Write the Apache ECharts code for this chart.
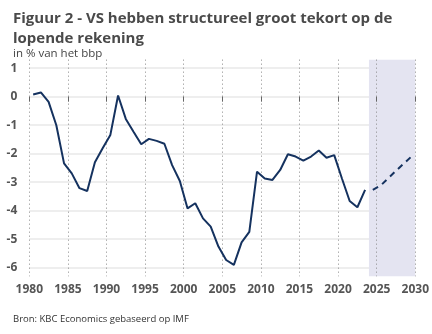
<!DOCTYPE html>
<html>
<head>
<meta charset="utf-8">
<script src="https://cdn.jsdelivr.net/npm/echarts@6/dist/echarts.min.js"></script>
<style>
  html, body { margin: 0; padding: 0; background: #fff; }
  #chart { width: 432px; height: 334px; }
</style>
</head>
<body>
<div id="chart"></div>
<script>
// US current account balance, % of GDP (IMF), 1980-2023 realised, 2024-2029 forecast
const firstYear = 1980;
const actual = [
  0.08, 0.15, -0.18, -1.0, -2.34, -2.69, -3.21, -3.31, -2.30, -1.81,
  -1.34, 0.04, -0.78, -1.23, -1.67, -1.48, -1.55, -1.65, -2.40, -2.96,
  -3.92, -3.74, -4.27, -4.56, -5.26, -5.73, -5.90, -5.11, -4.74, -2.63,
  -2.87, -2.92, -2.57, -2.02, -2.10, -2.24, -2.10, -1.89, -2.14, -2.05,
  -2.87, -3.66, -3.88, -3.27
];
const forecastFirstYear = 2024;
const forecast = [-3.27, -3.12, -2.86, -2.60, -2.35, -2.10];
const yTicks = [-6, -5, -4, -3, -2, -1, 0, 1];
const forecastBand = [2024, 2030];

// annual values are placed mid-year
const toPoints = (start, vals) => vals.map((v, i) => [start + i + 0.5, v]);

const chart = echarts.init(document.getElementById('chart'));
chart.setOption({
  animation: false,
  backgroundColor: '#ffffff',
  textStyle: { fontFamily: 'Open Sans' },
  title: [
    {
      text: 'Figuur 2 - VS hebben structureel groot tekort op de\nlopende rekening',
      left: 8, top: 4,
      textStyle: { fontFamily: 'Open Sans', fontSize: 15, fontWeight: 'bold', color: '#4a4a4a', lineHeight: 20 }
    },
    {
      text: 'in % van het bbp',
      left: 8, top: 43,
      textStyle: { fontFamily: 'Open Sans', fontSize: 11.5, fontWeight: 'normal', color: '#444' }
    },
    {
      text: 'Bron: KBC Economics gebaseerd op IMF',
      left: 8, top: 309,
      textStyle: { fontFamily: 'Open Sans', fontSize: 9.5, fontWeight: 'normal', color: '#333' }
    }
  ],
  grid: { left: 29.3, right: 14.7, top: 59.65, bottom: 57.75, containLabel: false },
  xAxis: {
    type: 'value', min: 1980, max: 2030, interval: 5, z: 2,
    axisLine: { show: false },
    axisTick: { show: true, length: 5, lineStyle: { color: '#666', width: 1 } },
    axisLabel: { color: '#555', fontWeight: 'bold', fontSize: 12, margin: 7, formatter: v => String(v) },
    splitLine: { show: true, lineStyle: { color: '#888', width: 1, type: [1, 3] } }
  },
  yAxis: {
    type: 'value', min: -6.3, max: 1.3, z: 0,
    axisLine: { show: false },
    axisTick: { show: false, customValues: yTicks },
    axisLabel: { color: '#555', fontWeight: 'bold', fontSize: 12, margin: 12, customValues: yTicks },
    splitLine: { show: true, lineStyle: { color: '#e8e8e8', width: 1.5 } }
  },
  series: [
    {
      type: 'line', data: [], z: 1, silent: true,
      markArea: {
        silent: true,
        itemStyle: { color: '#e4e4f1' },
        data: [[{ xAxis: forecastBand[0] }, { xAxis: forecastBand[1] }]]
      }
    },
    {
      type: 'line', z: 3, symbol: 'none',
      data: toPoints(firstYear, actual),
      lineStyle: { color: '#15325f', width: 2 }
    },
    {
      type: 'line', z: 3, symbol: 'none',
      data: toPoints(forecastFirstYear, forecast),
      lineStyle: { color: '#15325f', width: 2, type: [6, 5] }
    }
  ]
});
</script>
</body>
</html>
